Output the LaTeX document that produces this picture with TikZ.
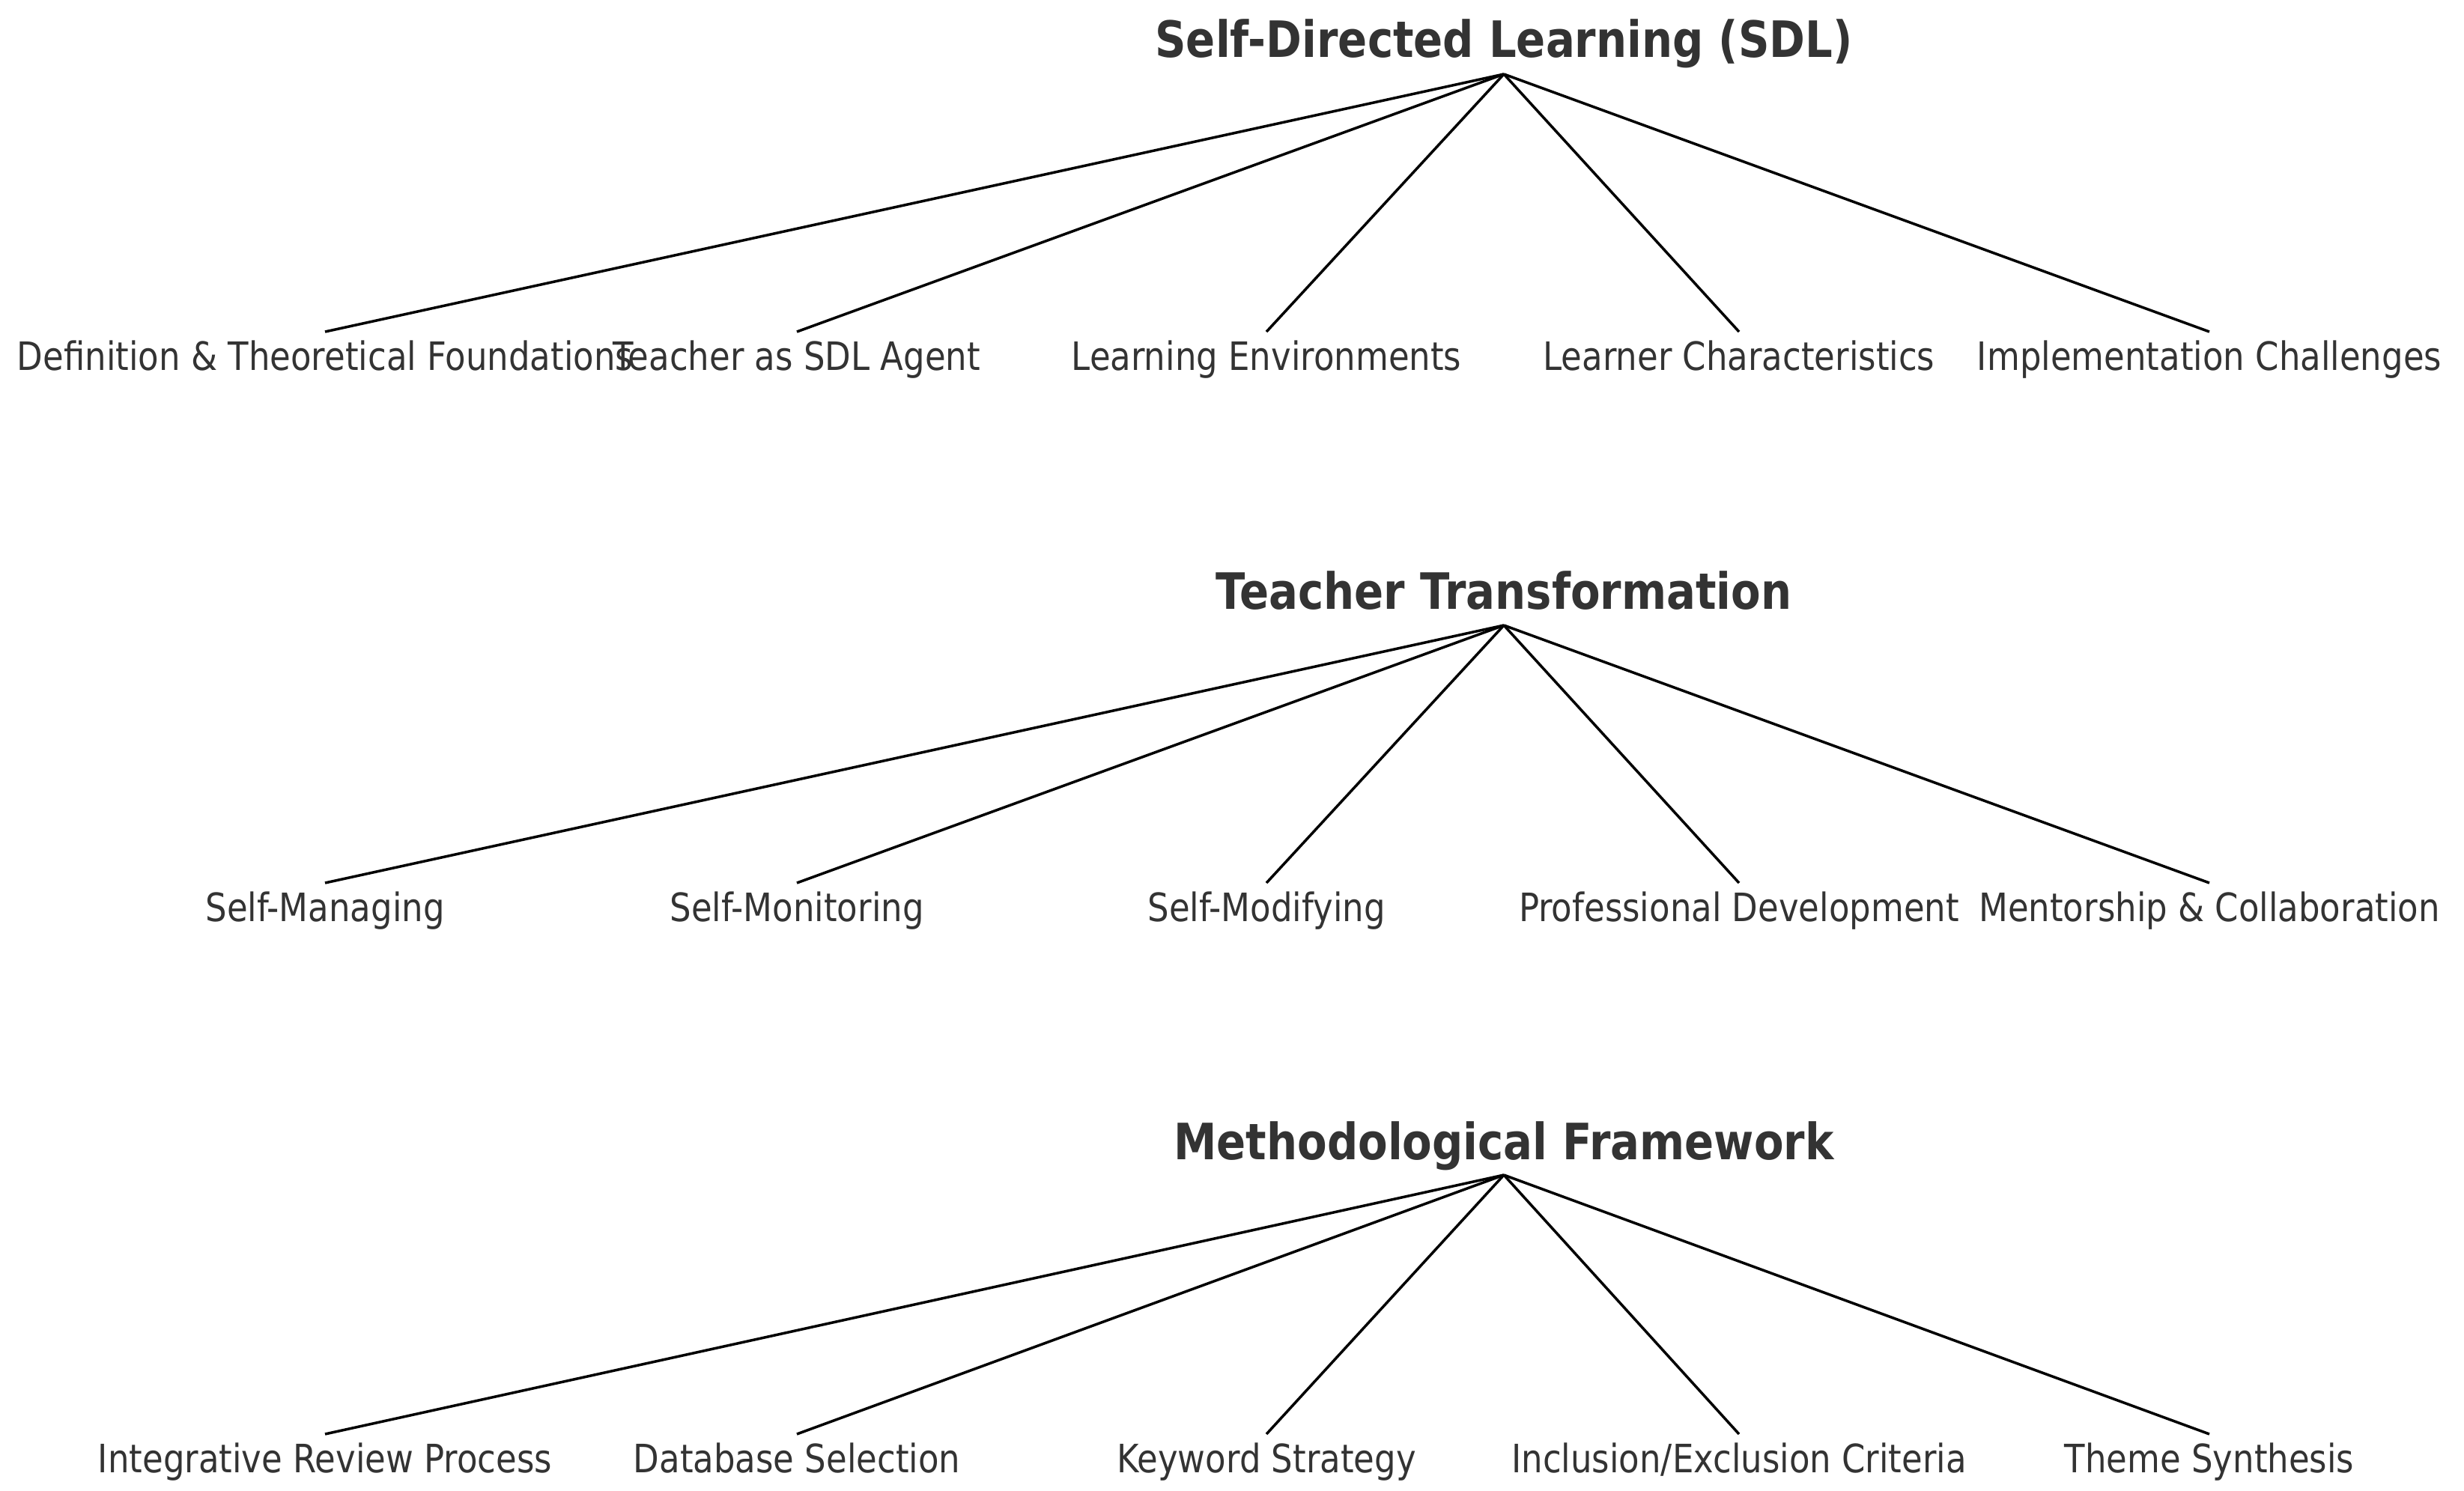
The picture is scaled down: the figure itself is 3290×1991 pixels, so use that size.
\documentclass[tikz,border=0pt]{standalone}
\usepackage{fontspec}
\setmainfont{DejaVu Sans}
\definecolor{txt}{HTML}{333333}
\newcommand{\vstretch}[1]{\scalebox{1}[1.16]{#1}}
\begin{document}
\begin{tikzpicture}[x=0.01cm,y=-0.01cm,
  title/.style={font=\fontsize{16.4}{18}\selectfont\bfseries, text=txt, anchor=base, inner sep=0pt},
  leaf/.style={font=\fontsize{12.8}{15}\selectfont, text=txt, anchor=base, inner sep=0pt},
  edge/.style={draw=black, line width=1pt}]
\useasboundingbox (0,0) rectangle (3290,1991);
% Row 1
\node[title] (t1) at (2008,77) {\vstretch{Self-Directed Learning (SDL)}};
\coordinate (a1) at (2008,99);
\foreach \i/\x/\lab in {1/434/{Definition \& Theoretical Foundations},2/1064/{Teacher as SDL Agent},3/1691/{Learning Environments},4/2322/{Learner Characteristics},5/2950/{Implementation Challenges}}{
  \coordinate (e1\i) at (\x,443);
  \node[leaf] (l1\i) at (\x,494) {\vstretch{\lab}};
  \draw[edge] (a1) -- (e1\i);
}
% Row 2
\node[title] (t2) at (2008,813) {\vstretch{Teacher Transformation}};
\coordinate (a2) at (2008,835);
\foreach \i/\x/\lab in {1/434/{Self-Managing},2/1064/{Self-Monitoring},3/1691/{Self-Modifying},4/2322/{Professional Development},5/2950/{Mentorship \& Collaboration}}{
  \coordinate (e2\i) at (\x,1179);
  \node[leaf] (l2\i) at (\x,1230) {\vstretch{\lab}};
  \draw[edge] (a2) -- (e2\i);
}
% Row 3
\node[title] (t3) at (2008,1548) {\vstretch{Methodological Framework}};
\coordinate (a3) at (2008,1569);
\foreach \i/\x/\lab in {1/434/{Integrative Review Process},2/1064/{Database Selection},3/1691/{Keyword Strategy},4/2322/{Inclusion/Exclusion Criteria},5/2950/{Theme Synthesis}}{
  \coordinate (e3\i) at (\x,1915);
  \node[leaf] (l3\i) at (\x,1966) {\vstretch{\lab}};
  \draw[edge] (a3) -- (e3\i);
}
\end{tikzpicture}
\end{document}
